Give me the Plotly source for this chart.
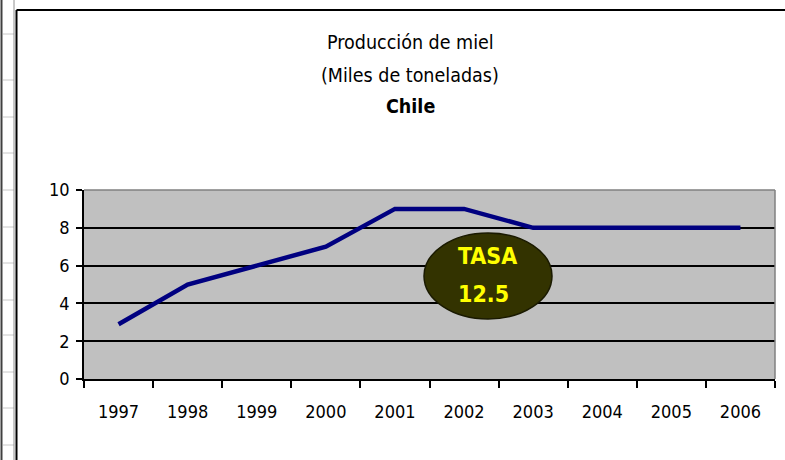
import plotly.graph_objects as go

# ---- data ----
years = ["1997", "1998", "1999", "2000", "2001", "2002", "2003", "2004", "2005", "2006"]
produccion = [2.9, 5.0, 6.0, 7.0, 9.0, 9.0, 8.0, 8.0, 8.0, 8.0]
y_ticks = [0, 2, 4, 6, 8, 10]
title_lines = ["Producción de miel", "(Miles de toneladas)", "<b>Chile</b>"]
badge_lines = ["<b>TASA</b>", "<b>12.5</b>"]

# ---- layout geometry (pixels) ----
W, H = 785, 460
L, R, T, B = 84, 10, 190, 81
PW, PH = W - L - R, H - T - B

def px(x):
    return (x - L) / PW

def py(y):
    return (H - B - y) / PH

FONT = "DejaVu Sans Condensed, Liberation Sans Narrow, Liberation Sans, Arial, sans-serif"

fig = go.Figure()
fig.add_trace(go.Scatter(
    x=years, y=produccion, mode="lines",
    line=dict(color="#000080", width=4.5),
    hoverinfo="skip", showlegend=False,
))

fig.update_layout(
    width=W, height=H,
    margin=dict(l=L, r=R, t=T, b=B, pad=0),
    paper_bgcolor="white",
    plot_bgcolor="#C0C0C0",
    showlegend=False,
    font=dict(family=FONT, color="black"),
)

fig.update_xaxes(
    type="category", range=[-0.5, len(years) - 0.5],
    tickson="boundaries", ticks="outside", ticklen=7, tickwidth=1.5, tickcolor="black",
    showline=True, linecolor="black", linewidth=1.5,
    showgrid=False, zeroline=False,
    tickfont=dict(family=FONT, size=18, color="black"),
    ticklabelstandoff=16,
)
fig.update_yaxes(
    range=[0, 10], tickvals=y_ticks, ticktext=[str(v) for v in y_ticks],
    ticks="outside", ticklen=6, tickwidth=1.5, tickcolor="black",
    showline=True, linecolor="black", linewidth=1.5,
    showgrid=True, gridcolor="black", gridwidth=1.5, zeroline=False,
    tickfont=dict(family=FONT, size=18, color="black"),
    ticklabelstandoff=3,
)

shapes = []
# plot-area gray border (top and right)
shapes.append(dict(type="line", xref="paper", yref="paper", x0=0, x1=1, y0=1, y1=1,
                   line=dict(color="#808080", width=1.5), layer="above"))
shapes.append(dict(type="line", xref="paper", yref="paper", x0=1, x1=1, y0=0, y1=1,
                   line=dict(color="#808080", width=1.5), layer="above"))

# spreadsheet backdrop on the left
row_lines = [34, 80, 117, 153, 190, 227, 263, 300, 335, 372, 408, 445]
for ry in row_lines:
    shapes.append(dict(type="line", xref="paper", yref="paper",
                       x0=px(3), x1=px(14), y0=py(ry), y1=py(ry),
                       line=dict(color="#C8C8C8", width=1)))
shapes.append(dict(type="line", xref="paper", yref="paper", x0=px(1.5), x1=px(1.5),
                   y0=py(0), y1=py(H), line=dict(color="#404040", width=2)))
shapes.append(dict(type="line", xref="paper", yref="paper", x0=px(14), x1=px(14),
                   y0=py(0), y1=py(H), line=dict(color="#909090", width=1)))
# chart border
shapes.append(dict(type="line", xref="paper", yref="paper", x0=px(16.5), x1=px(16.5),
                   y0=py(10), y1=py(H), line=dict(color="black", width=2)))
shapes.append(dict(type="line", xref="paper", yref="paper", x0=px(16.5), x1=px(W),
                   y0=py(10), y1=py(10), line=dict(color="black", width=2)))

# badge ellipse
shapes.append(dict(type="circle", xref="paper", yref="paper",
                   x0=px(424), x1=px(552), y0=py(319), y1=py(233),
                   fillcolor="#333300", line=dict(color="#1A1A00", width=1.5), layer="above"))
fig.update_layout(shapes=shapes)

annotations = []
for text, ty in zip(title_lines, [42, 75, 106]):
    annotations.append(dict(text=text, xref="paper", yref="paper", x=px(410), y=py(ty),
                            xanchor="center", yanchor="middle", showarrow=False,
                            font=dict(family=FONT, size=19.5, color="black")))
for text, ty in zip(badge_lines, [256, 294]):
    annotations.append(dict(text=text, xref="paper", yref="paper", x=px(456), y=py(ty),
                            xanchor="left", yanchor="middle", align="left", showarrow=False,
                            font=dict(family=FONT, size=23, color="#FFFF00")))
fig.update_layout(annotations=annotations)

fig.write_html("out.html", config={"displayModeBar": False},
               post_script="document.body.style.margin='0';")
